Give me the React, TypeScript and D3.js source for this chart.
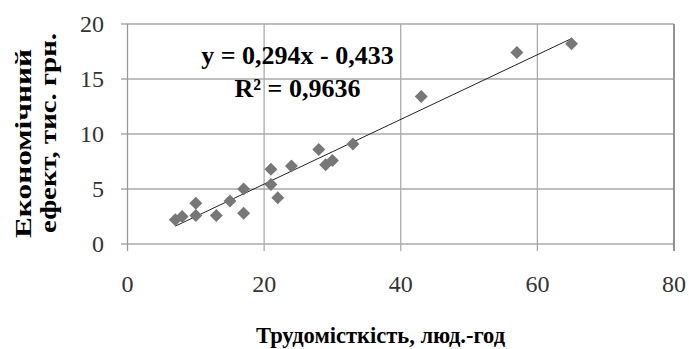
import React from "react";
import * as d3 from "d3";

const xValues = [7, 8, 10, 10, 13, 15, 17, 17, 21, 21, 22, 24, 28, 29, 30, 33, 43, 57, 65];
const yValues = [2.2, 2.5, 3.7, 2.6, 2.6, 3.9, 5.0, 2.8, 6.8, 5.4, 4.2, 7.1, 8.6, 7.2, 7.6, 9.1, 13.4, 17.4, 18.2];
const xTicks = [0, 20, 40, 60, 80];
const yTicks = [0, 5, 10, 15, 20];
const trendSlope = 0.294;
const trendIntercept = -0.433;
const equationLabel = "y = 0,294x - 0,433";
const r2Label = "R² = 0,9636";
const xTitle = "Трудомісткість, люд.-год";
const yTitleLines = ["Економічний", "ефект, тис. грн."];

const serif = "'Liberation Serif'";

export default function App() {
  const W = 689, H = 349;
  const left = 127.5, right = 674, top = 24, bottom = 244;
  const x = d3.scaleLinear().domain([0, 80]).range([left, right]);
  const y = d3.scaleLinear().domain([0, 20]).range([bottom, top]);
  const points = xValues.map((v, i) => ({ x: v, y: yValues[i] }));
  const xMin = d3.min(xValues) as number;
  const xMax = d3.max(xValues) as number;
  const line = d3.line<number>().x((d) => x(d)).y((d) => y(trendSlope * d + trendIntercept));
  const diamond = d3.symbol().type(d3.symbolSquare).size(84)();
  const ts = (size: number, bold = false): React.CSSProperties => ({
    fontFamily: serif,
    fontSize: size,
    fontWeight: bold ? 700 : 400,
  });

  return (
    <svg width={W} height={H} style={{ position: "absolute", left: 0, top: 0, background: "#fff" }}>
      {yTicks.map((t) => (
        <line key={"h" + t} x1={left - 6.5} x2={right} y1={y(t)} y2={y(t)} stroke="#aaaaaa" strokeWidth={1.3} />
      ))}
      {xTicks.slice(1).map((t) => (
        <line key={"v" + t} x1={x(t)} x2={x(t)} y1={top} y2={bottom + 7} stroke={t === 80 ? "#888" : "#aaaaaa"} strokeWidth={t === 80 ? 1.8 : 1.3} />
      ))}
      <line x1={left} x2={left} y1={top} y2={bottom + 7} stroke="#999" strokeWidth={1.3} />
      {yTicks.map((t) => (
        <text key={"yl" + t} x={104} y={y(t) + 8} textAnchor="end" style={ts(24)} fill="#333">{t}</text>
      ))}
      {xTicks.map((t) => (
        <text key={"xl" + t} x={x(t)} y={292} textAnchor="middle" style={ts(24)} fill="#333">{t}</text>
      ))}
      <path d={line([xMin, xMax]) || ""} fill="none" stroke="#222" strokeWidth={1} />
      {points.map((p, i) => (
        <path key={"p" + i} d={diamond || ""} transform={`translate(${x(p.x)},${y(p.y)}) rotate(45)`} fill="#777" />
      ))}
      <text x={297.5} y={63.5} textAnchor="middle" style={ts(26, true)} fill="#000">{equationLabel}</text>
      <text x={297.5} y={97} textAnchor="middle" style={ts(26, true)} fill="#000">{r2Label}</text>
      <text x={256} y={343} textAnchor="start" style={ts(22.5, true)} fill="#000">{xTitle}</text>
      <text transform={`translate(31,143.5) rotate(-90)`} textAnchor="middle" style={ts(24, true)} fill="#000" textLength={189} lengthAdjust="spacingAndGlyphs">{yTitleLines[0]}</text>
      <text transform={`translate(56,133) rotate(-90)`} textAnchor="middle" style={ts(24, true)} fill="#000" textLength={200} lengthAdjust="spacingAndGlyphs">{yTitleLines[1]}</text>
    </svg>
  );
}
